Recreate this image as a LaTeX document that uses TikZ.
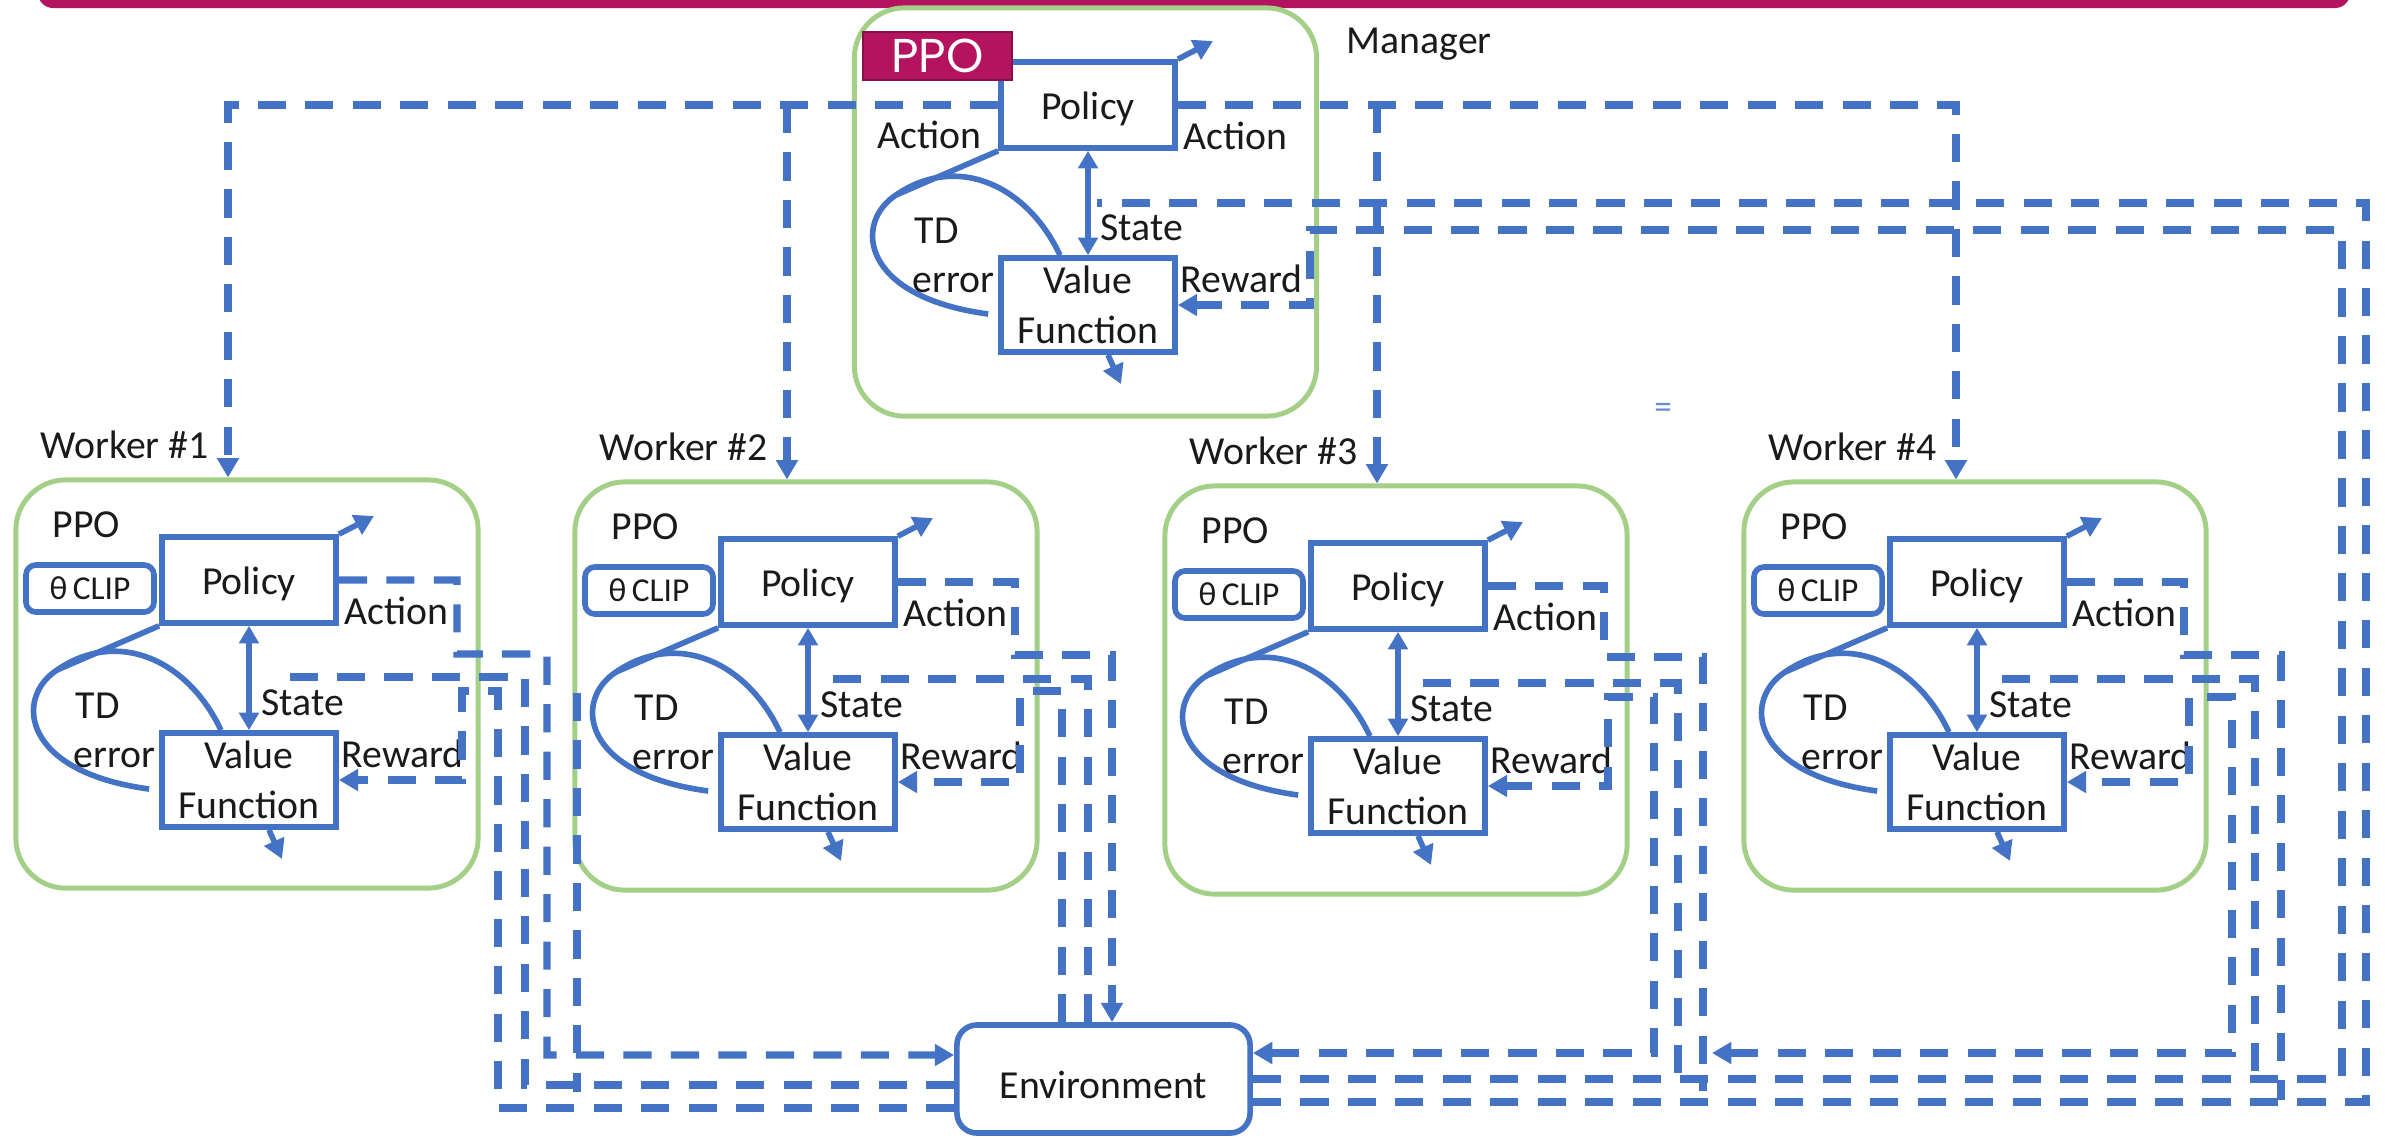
\documentclass[tikz,border=0pt]{standalone}
\usepackage{fontspec}
\setmainfont{Carlito}
\newfontfamily\ppofont{Poppins}
\usetikzlibrary{arrows.meta}

\definecolor{lineblue}{HTML}{4472C4}
\definecolor{boxgreen}{HTML}{A3CF87}
\definecolor{ppomag}{HTML}{B4135F}
\definecolor{ppoedge}{HTML}{8A0E48}
\definecolor{inkgray}{HTML}{1A1A1A}

\newcommand\lblfont{\fontsize{11.3}{14.2}\selectfont}

% Policy / value-function block shared by the manager and the workers
% (coordinates in pixels, relative to worker 1)
\newcommand\drawcore{%
  \node[bbox, minimum height=0.86cm, text height=8.5pt, text depth=0pt] (-pol) at (249,580) {Policy};
  \node[bbox, minimum height=0.94cm, align=center] (-vf) at (249,780) {Value\\Function};
  \coordinate (-out) at (374,516);
  \coordinate (-vfo) at (282,859);
  \coordinate (-j) at (57,670);
  \coordinate (-sin) at (274,677);
  \draw[sarrow] (-pol.north east) -- (-out);
  \draw[sarrow] ([xshift=0.2cm]-vf.south) -- (-vfo);
  \draw[sdouble] (-pol.south) -- (-vf.north);
  \draw[sline] (-pol.south west) -- (-j);
  \draw[sline] ([xshift=-0.28cm]-vf.north) .. controls (188,660) and (118,628) .. (-j)
     .. controls (14,698) and (22,772) .. ([xshift=-0.1cm,yshift=-0.09cm]-vf.west);
  \node[lbl] (-st) at (261,715) {State};
  \node[lbl] (-td) at (75,718) {TD};
  \node[lbl] (-err) at (73,767) {error};
  \node[lbl] (-rw) at (341,767) {Reward};
  \node[lbl] (-act) at (344,624) {Action};
}

\tikzset{
  bbox/.style={draw=lineblue, line width=1.6pt, fill=white, minimum width=1.74cm,
    inner sep=0pt, font=\lblfont, text=inkgray},
  greenbox/.style={draw=boxgreen, line width=1.4pt, rounded corners=0.5cm,
    minimum width=4.62cm, minimum height=4.08cm, inner sep=0pt},
  lbl/.style={anchor=base west, inner sep=0pt, font=\lblfont, text=inkgray},
  clipbox/.style={draw=lineblue, line width=1.6pt, rounded corners=0.1cm, fill=white,
    minimum width=1.28cm, minimum height=0.47cm, inner sep=0pt,
    font=\fontsize{9.5}{11}\selectfont, text=inkgray},
  ppobox/.style={fill=ppomag, draw=ppoedge, line width=0.8pt, minimum width=1.49cm,
    minimum height=0.48cm, inner sep=0pt, text=white,
    font=\ppofont\fontsize{13.5}{15}\selectfont},
  envbox/.style={draw=lineblue, line width=1.6pt, rounded corners=0.2cm, fill=white,
    minimum width=2.93cm, minimum height=1.08cm, inner sep=0pt, font=\lblfont,
    text=inkgray, text height=10.8pt, text depth=0pt},
  sline/.style={draw=lineblue, line width=1.6pt},
  sarrow/.style={sline, -{Triangle[length=5.5pt,width=6pt]}},
  sdouble/.style={sline, {Triangle[length=5pt,width=5.5pt]}-{Triangle[length=5pt,width=5.5pt]}},
  dline/.style={draw=lineblue, line width=2.1pt, dash pattern=on 8pt off 5.5pt},
  tipend/.style={-{Triangle[length=5.5pt,width=6pt]}},
  tipboth/.style={{Triangle[length=5.5pt,width=6pt]}-{Triangle[length=5.5pt,width=6pt]}},
  pics/core/.style={code={\drawcore}},
  pics/worker/.style={code={
    \node[greenbox] (-box) at (247,684) {};
    \drawcore
    \node[lbl] (-ppo) at (52,537) {PPO};
    \node[clipbox] (-clip) at (90,588.5) {θ\,CLIP};
    \node[lbl] (-name) at (40,458) {Worker \##1};
    \coordinate (-in) at ([xshift=-0.19cm]-box.north);
  }},
}

\begin{document}
\begin{tikzpicture}[x=0.01cm,y=-0.01cm]
\useasboundingbox (0,0) rectangle (2385,1138);
\clip (0,0) rectangle (2385,1138);
\fill[white] (0,0) rectangle (2385,1138);

% banner edge along the top
\fill[ppomag, rounded corners=0.15cm] (38,-60) rectangle (2350,8);

% manager
\node[greenbox] (m-box) at (1085.5,212) {};
\pic (m) at (839,-475) {core};
\node[lbl] (m-act2) at (877,148) {Action};
\node[ppobox] (m-ppo) at (937.5,56) {PPO};
\node[lbl] (m-name) at (1346,53) {Manager};
\coordinate (m-sin) at (1097,203);

% workers
\pic (w1) at (0,0) {worker=1};
\pic (w2) at (559,2) {worker=2};
\pic (w3) at (1149,6) {worker=3};
\pic (w4) at (1728,2) {worker=4};

% environment
\node[envbox] (env) at (1103.5,1079) {Environment};

\node[inner sep=0pt, text=lineblue!80, font=\fontsize{10}{12}\selectfont] (eqmark) at (1663,411) {=};

% manager policy to the workers
\draw[dline, tipend] (m-pol.west) -| (w1-in);
\draw[dline, tipend] (w2-in |- m-pol.west) -- (w2-in);
\draw[dline, tipend] (m-pol.east) -| (w4-in);
\draw[dline, tipend] (w3-in |- m-pol.east) -- (w3-in);

% environment to the manager
\draw[dline] ([yshift=-0.23cm]env.east) -| (2366,203) -- (m-sin);
\draw[dline, tipend] (env.east) -| (2342,230) -- (1310,230) |- (m-vf);

% worker 1
\draw[dline, tipend] (w1-pol.east) -| (457,654) -| (547,1055) -- ([yshift=0.24cm]env.west);
\draw[dline] ([yshift=-0.06cm]env.west) -| (525,677) -- (w1-sin);
\draw[dline, tipend] ([yshift=-0.29cm]env.west) -| (498,691) -- (462,691) |- (w1-vf);
\draw[dline] (577,693) -- (577,1092);

% worker 2
\draw[dline, tipend] (w2-pol.east) -| (1015,655) -| ([xshift=0.085cm]env.north);
\draw[dline] ([xshift=-0.155cm]env.north) |- (w2-sin);
\draw[dline, tipend] ([xshift=-0.415cm]env.north) |- (1020,691) |- (w2-vf);

% worker 3
\coordinate (w3-aend) at (1703,1091);
\coordinate (w3-send) at (1678,1084);
\draw[dline] (w3-pol.east) -| (1604,657) -| (w3-aend);
\draw[dline] (w3-sin) -| (w3-send);
\draw[dline, tipboth] ([yshift=0.26cm]env.east) -| (1654,697) -- (1608,697) |- (w3-vf);

% worker 4
\coordinate (w4-aend) at (2281,1100);
\coordinate (w4-send) at (2255,1078);
\coordinate (w4-rend) at (1712,1053);
\draw[dline] (w4-pol.east) -| (2184,655) -| (w4-aend);
\draw[dline] (w4-sin) -| (w4-send);
\draw[dline, tipboth] (w4-rend) -| (2232,697) -- (2189,697) |- (w4-vf);
\end{tikzpicture}
\end{document}
